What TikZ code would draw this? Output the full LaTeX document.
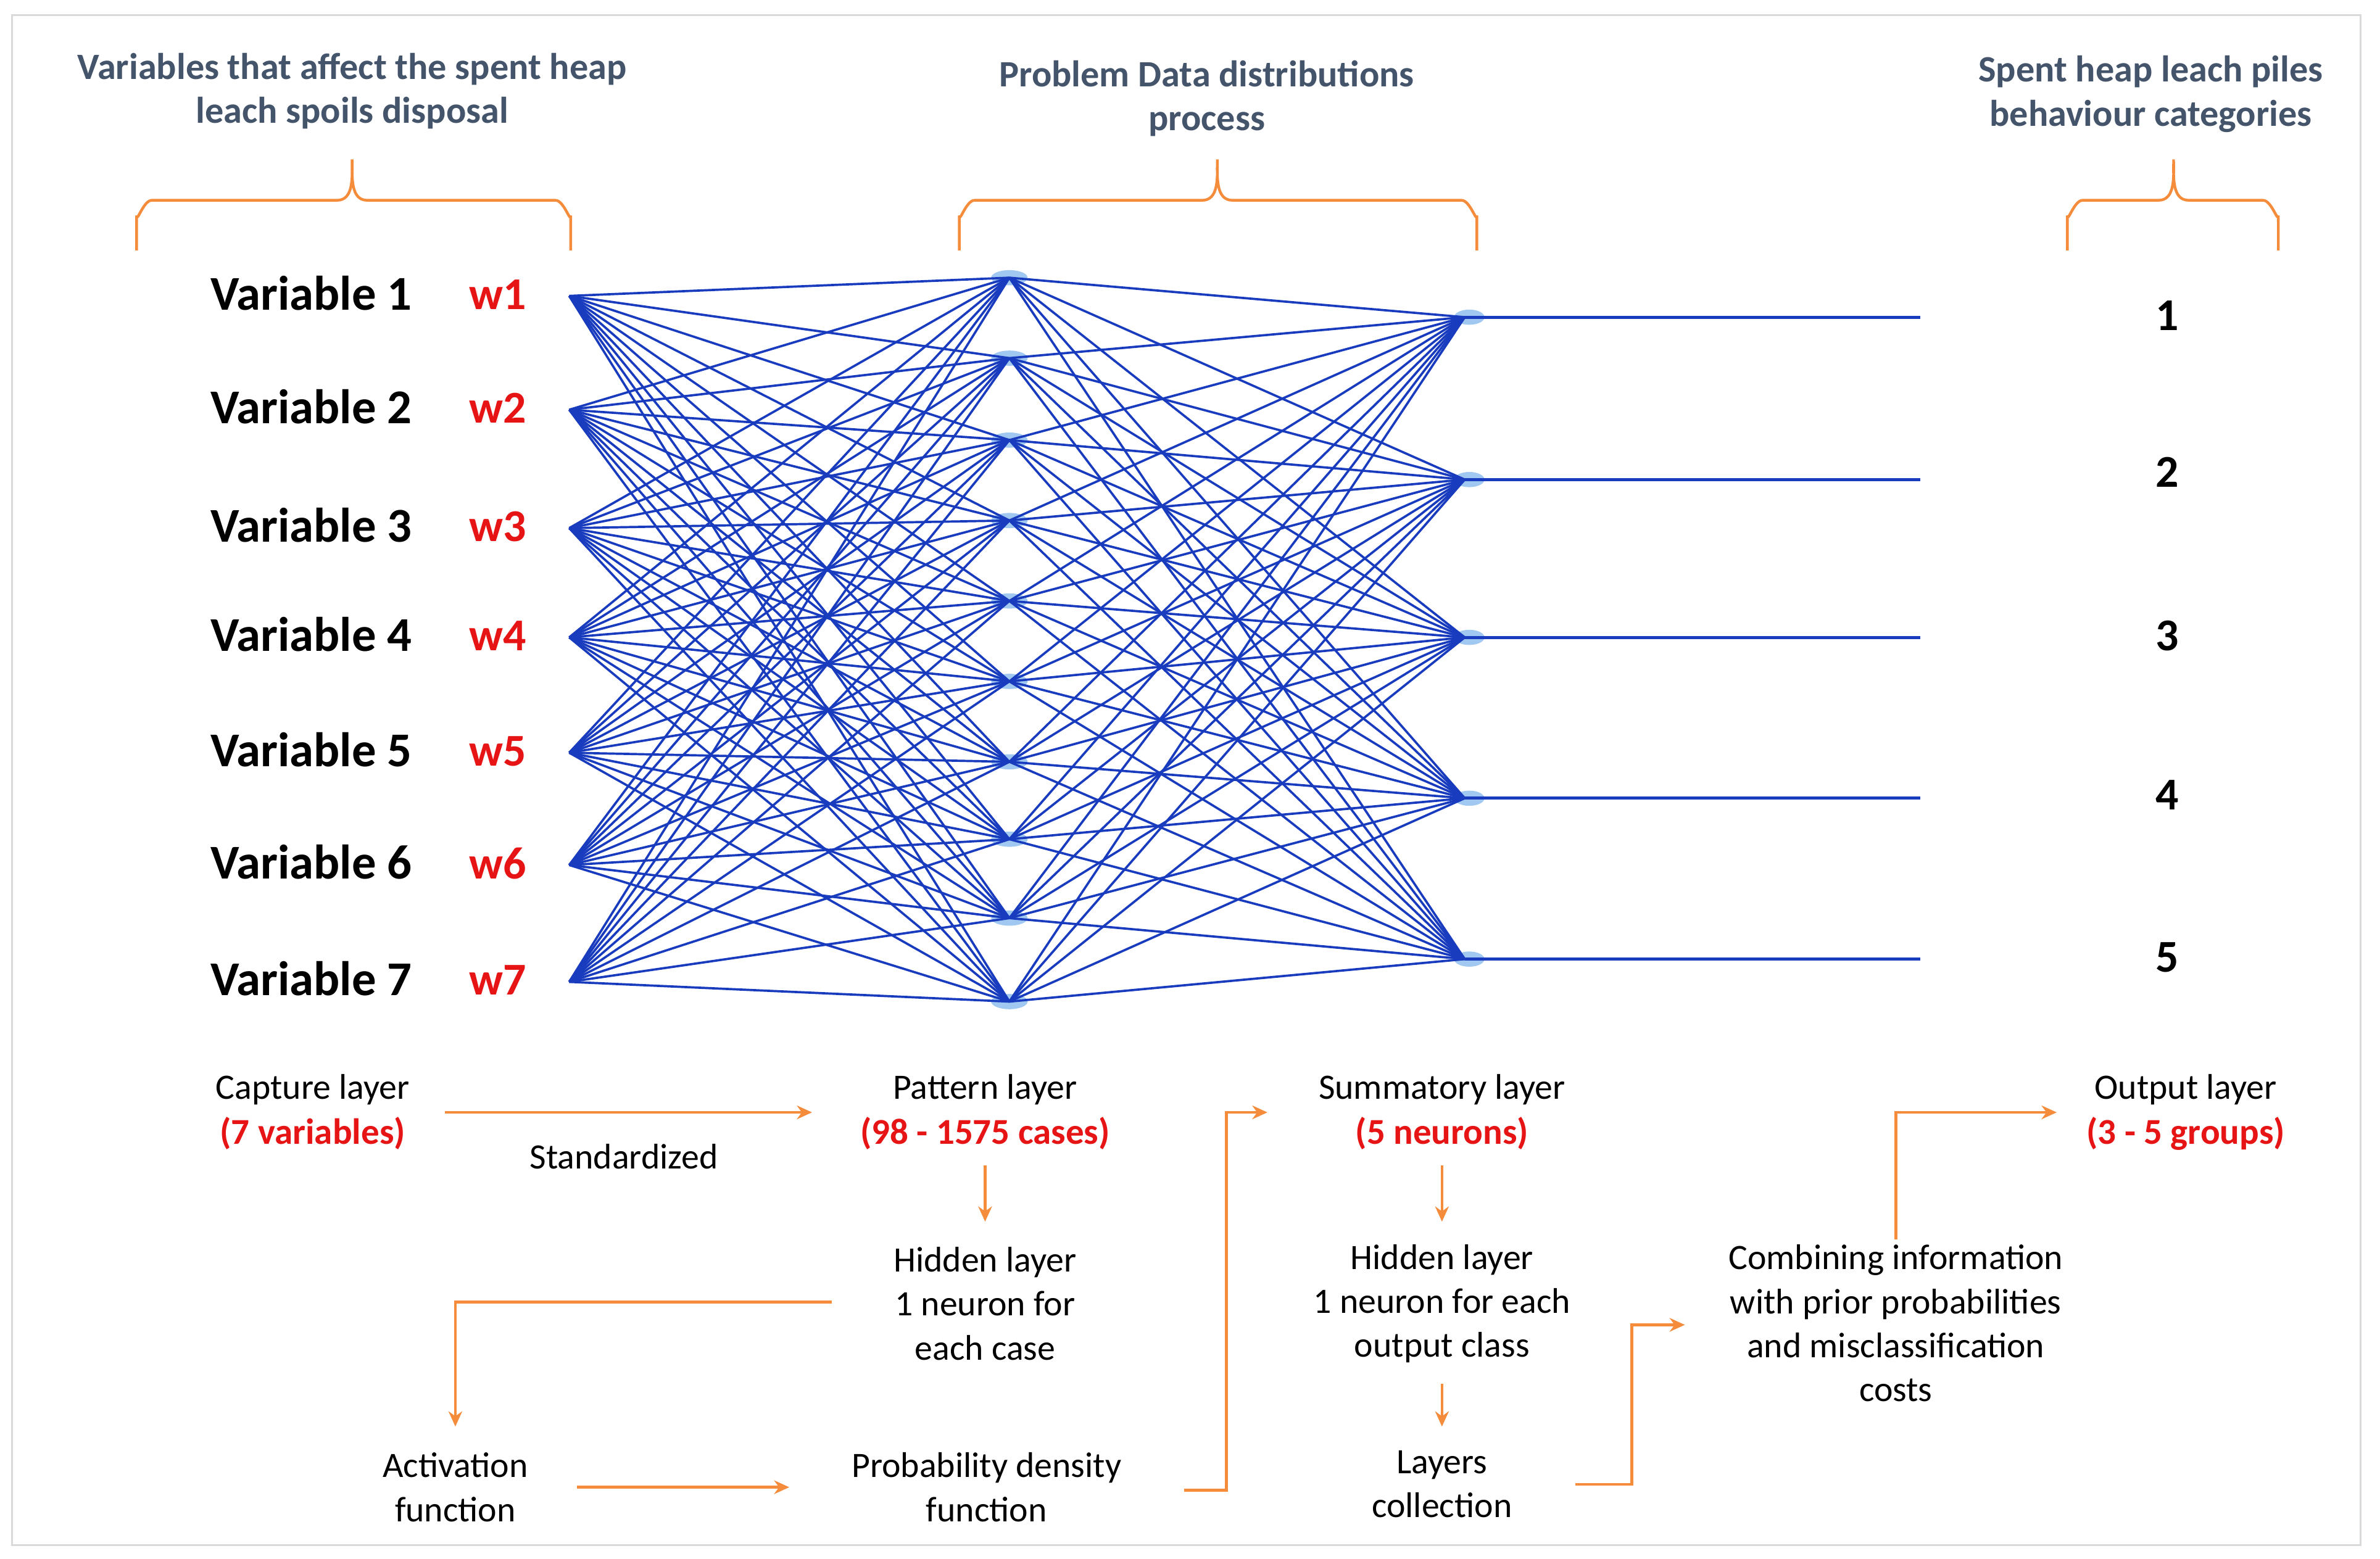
\documentclass[tikz,border=0pt]{standalone}
\usepackage{fontspec}
\setmainfont{Carlito}
\usetikzlibrary{arrows.meta}
\definecolor{net}{RGB}{25,60,190}
\definecolor{hdr}{RGB}{68,84,106}
\definecolor{org}{RGB}{245,140,60}
\definecolor{rd}{RGB}{230,20,20}
\definecolor{lb}{RGB}{160,200,240}
\begin{document}
\begin{tikzpicture}[x=1pt,y=-1pt,
  net/.style={draw=net,line width=1.6pt},
  hd/.style={text=hdr,font=\fontsize{24.5}{29}\selectfont\bfseries,align=center},
  var/.style={font=\fontsize{32}{36}\selectfont\bfseries,anchor=center},
  wt/.style={font=\fontsize{30}{34}\selectfont\bfseries,text=rd},
  num/.style={font=\fontsize{30}{34}\selectfont\bfseries},
  tx/.style={font=\fontsize{23.5}{29}\selectfont,align=center},
  rt/.style={font=\fontsize{24}{28}\selectfont\bfseries,text=rd},
  oa/.style={draw=org,line width=1.8pt,-{Stealth[length=10pt,width=9pt]}},
  ol/.style={draw=org,line width=1.8pt},
  pt/.style={inner sep=0pt,minimum size=0pt}]
\useasboundingbox (0,0) rectangle (1568,1027);
\draw[gray!30,line width=1.2pt] (8,10) rectangle (1555,1018);
% headers
\node[hd] (h1) at (232,60) {Variables that affect the spent heap\\leach spoils disposal};
\node[hd] (h2) at (795,65) {Problem Data distributions\\process};
\node[hd] (h3) at (1417,62) {Spent heap leach piles\\behaviour categories};
% braces
\foreach \a/\m/\b in {90/232/376,632/802/973,1362/1432/1501}{
  \draw[ol] (\a,165) -- (\a,142) to[out=-90,in=180] (\a+10,132) -- (\m-10,132) to[out=0,in=-90] (\m,105)
    to[out=-90,in=180] (\m+10,132) -- (\b-10,132) to[out=0,in=-90] (\b,142) -- (\b,165);
}
% nodes
\foreach \i/\y in {1/195,2/270,3/348,4/420,5/496,6/570,7/647}{
  \coordinate (i\i) at (375,\y);
  \node[var] (v\i) at (205,\y-2) {Variable \i};
  \node[wt] (w\i) at (328,\y-1) {w\i};
}
\foreach \j/\y in {1/183,2/236,3/290,4/343,5/396,6/449,7/502,8/553,9/605,10/660}{
  \fill[lb] (665,\y) ellipse (12 and 5);
  \coordinate (p\j) at (665,\y);
}
\foreach \k/\y in {1/209,2/316,3/420,4/526,5/632}{
  \fill[lb] (968,\y) ellipse (10 and 5);
  \coordinate (s\k) at (965,\y);
  \coordinate (o\k) at (1265,\y);
  \draw[net,line width=2pt] (s\k) -- (o\k);
}
\foreach \i in {1,...,7}{\foreach \j in {1,...,10}{\draw[net,line width=1.5pt] (i\i) -- (p\j);}}
\foreach \j in {1,...,10}{\foreach \k in {1,...,5}{\draw[net,line width=1.5pt] (p\j) -- (s\k);}}
\foreach \k/\y in {1/208,2/311,3/419,4/524,5/631}{\node[num] (n\k) at (1428,\y) {\k};}
% bottom flow
\node[tx] (cap) at (206,718) {Capture layer};
\node[rt] (capr) at (206,747) {(7 variables)};
\node[tx] (std) at (411,762) {Standardized};
\node[tx] (pat) at (649,718) {Pattern layer};
\node[rt] (patr) at (649,747) {(98 - 1575 cases)};
\node[tx] (hid1) at (649,859) {Hidden layer\\1 neuron for\\each case};
\node[tx] (act) at (300,980) {Activation\\function};
\node[tx] (pdf) at (650,980) {Probability density\\function};
\node[tx] (sum) at (950,718) {Summatory layer};
\node[rt] (sumr) at (950,747) {(5 neurons)};
\node[tx] (hid2) at (950,859) {Hidden layer\\1 neuron for each\\output class};
\node[tx] (lay) at (950,978) {Layers\\collection};
\node[tx] (comb) at (1249,872) {Combining information\\with prior probabilities\\and misclassification\\costs};
\node[tx] (out) at (1440,718) {Output layer};
\node[rt] (outr) at (1440,747) {(3 - 5 groups)};
\coordinate (a1) at (293,733); \coordinate (a2) at (535,733);
\draw[oa] (a1) -- (a2);
\draw[oa] (649,768) -- (649,805);
\draw[oa] (548,858) -- (300,858) -- (300,940);
\draw[oa] (380,980) -- (520,980);
\draw[oa] (780,982) -- (808,982) -- (808,733) -- (835,733);
\draw[oa] (950,768) -- (950,805);
\draw[oa] (950,912) -- (950,940);
\draw[oa] (1038,978) -- (1075,978) -- (1075,873) -- (1110,873);
\draw[oa] (comb.north) -- (1249,733) -- (1355,733);
\end{tikzpicture}
\end{document}
